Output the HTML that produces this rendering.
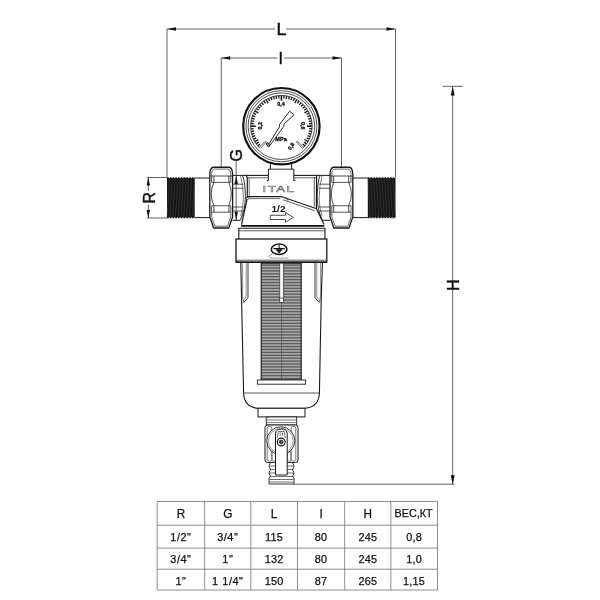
<!DOCTYPE html>
<html><head><meta charset="utf-8"><title>Filter drawing</title>
<style>html,body{margin:0;padding:0;background:#fff}svg{display:block;will-change:transform}text{font-family:"Liberation Sans",sans-serif;fill:#111}#dims text{stroke:#111;stroke-width:.45px}#table text{stroke:#111;stroke-width:.25px}#gauge text{stroke:#111;stroke-width:.3px}</style></head><body>
<svg width="600" height="600" viewBox="0 0 600 600">
<rect width="600" height="600" fill="#fff"/>
<g id="dims">
<line x1="167.00" y1="29.00" x2="275.00" y2="29.00" stroke="#3a3a3a" stroke-width="0.8"/>
<line x1="286.00" y1="29.00" x2="395.50" y2="29.00" stroke="#3a3a3a" stroke-width="0.8"/>
<polygon points="167.00,29.00 176.00,27.20 176.00,30.80" fill="#111"/>
<polygon points="395.50,29.00 386.50,30.80 386.50,27.20" fill="#111"/>
<line x1="167.00" y1="29.00" x2="167.00" y2="177.50" stroke="#3a3a3a" stroke-width="0.8"/>
<line x1="395.50" y1="29.00" x2="395.50" y2="177.50" stroke="#3a3a3a" stroke-width="0.8"/>
<text x="281.4" y="35.3" font-size="17.4" text-anchor="middle" textLength="10" lengthAdjust="spacingAndGlyphs">L</text>
<line x1="221.25" y1="58.00" x2="277.50" y2="58.00" stroke="#3a3a3a" stroke-width="0.8"/>
<line x1="284.00" y1="58.00" x2="341.50" y2="58.00" stroke="#3a3a3a" stroke-width="0.8"/>
<polygon points="221.25,58.00 230.25,56.20 230.25,59.80" fill="#111"/>
<polygon points="341.50,58.00 332.50,59.80 332.50,56.20" fill="#111"/>
<line x1="221.25" y1="58.00" x2="221.25" y2="167.00" stroke="#3a3a3a" stroke-width="0.8"/>
<line x1="341.50" y1="58.00" x2="341.50" y2="167.00" stroke="#3a3a3a" stroke-width="0.8"/>
<text x="280.8" y="63.8" font-size="16" text-anchor="middle">I</text>
<line x1="147.00" y1="177.50" x2="167.00" y2="177.50" stroke="#3a3a3a" stroke-width="0.8"/>
<line x1="147.00" y1="218.00" x2="167.00" y2="218.00" stroke="#3a3a3a" stroke-width="0.8"/>
<line x1="148.30" y1="177.50" x2="148.30" y2="191.00" stroke="#3a3a3a" stroke-width="0.8"/>
<line x1="148.30" y1="205.00" x2="148.30" y2="218.00" stroke="#3a3a3a" stroke-width="0.8"/>
<polygon points="148.30,177.50 150.00,185.50 146.60,185.50" fill="#111"/>
<polygon points="148.30,218.00 146.60,210.00 150.00,210.00" fill="#111"/>
<text transform="translate(155,197.8) rotate(-90)" font-size="17.4" text-anchor="middle" textLength="11.4" lengthAdjust="spacingAndGlyphs">R</text>
<line x1="236.20" y1="161.00" x2="236.20" y2="220.50" stroke="#3a3a3a" stroke-width="0.8"/>
<polygon points="236.20,175.50 237.90,184.00 234.50,184.00" fill="#111"/>
<polygon points="236.20,220.30 234.50,211.80 237.90,211.80" fill="#111"/>
<text transform="translate(242.3,155.2) rotate(-90)" font-size="17.4" text-anchor="middle" textLength="12.4" lengthAdjust="spacingAndGlyphs">G</text>
<line x1="442.80" y1="86.30" x2="463.00" y2="86.30" stroke="#3a3a3a" stroke-width="0.8"/>
<line x1="452.70" y1="86.30" x2="452.70" y2="484.20" stroke="#3a3a3a" stroke-width="0.8"/>
<polygon points="452.70,86.50 454.70,95.50 450.70,95.50" fill="#111"/>
<polygon points="452.70,484.20 450.70,475.20 454.70,475.20" fill="#111"/>
<line x1="293.00" y1="484.20" x2="454.50" y2="484.20" stroke="#3a3a3a" stroke-width="0.8"/>
<text transform="translate(458.6,285.1) rotate(-90)" font-size="17.4" text-anchor="middle" textLength="11.2" lengthAdjust="spacingAndGlyphs">H</text>
</g>
<g id="threads">
<rect x="167" y="177.3" width="27.69999999999999" height="40.89999999999998" fill="#161616"/>
<line x1="169.69" y1="178.10" x2="167.08" y2="217.40" stroke="#4a4a4a" stroke-width="0.45"/>
<line x1="172.46" y1="178.10" x2="169.85" y2="217.40" stroke="#4a4a4a" stroke-width="0.45"/>
<line x1="175.23" y1="178.10" x2="172.62" y2="217.40" stroke="#4a4a4a" stroke-width="0.45"/>
<line x1="178.00" y1="178.10" x2="175.39" y2="217.40" stroke="#4a4a4a" stroke-width="0.45"/>
<line x1="180.77" y1="178.10" x2="178.16" y2="217.40" stroke="#4a4a4a" stroke-width="0.45"/>
<line x1="183.53" y1="178.10" x2="180.93" y2="217.40" stroke="#4a4a4a" stroke-width="0.45"/>
<line x1="186.31" y1="178.10" x2="183.70" y2="217.40" stroke="#4a4a4a" stroke-width="0.45"/>
<line x1="189.07" y1="178.10" x2="186.47" y2="217.40" stroke="#4a4a4a" stroke-width="0.45"/>
<line x1="191.84" y1="178.10" x2="189.24" y2="217.40" stroke="#4a4a4a" stroke-width="0.45"/>
<line x1="194.62" y1="178.10" x2="192.01" y2="217.40" stroke="#4a4a4a" stroke-width="0.45"/>
<rect x="168.66" y="177.10000000000002" width="1.11" height="1" fill="#fff"/>
<rect x="168.66" y="217.39999999999998" width="1.11" height="1" fill="#fff"/>
<rect x="171.43" y="177.10000000000002" width="1.11" height="1" fill="#fff"/>
<rect x="171.43" y="217.39999999999998" width="1.11" height="1" fill="#fff"/>
<rect x="174.20" y="177.10000000000002" width="1.11" height="1" fill="#fff"/>
<rect x="174.20" y="217.39999999999998" width="1.11" height="1" fill="#fff"/>
<rect x="176.97" y="177.10000000000002" width="1.11" height="1" fill="#fff"/>
<rect x="176.97" y="217.39999999999998" width="1.11" height="1" fill="#fff"/>
<rect x="179.74" y="177.10000000000002" width="1.11" height="1" fill="#fff"/>
<rect x="179.74" y="217.39999999999998" width="1.11" height="1" fill="#fff"/>
<rect x="182.51" y="177.10000000000002" width="1.11" height="1" fill="#fff"/>
<rect x="182.51" y="217.39999999999998" width="1.11" height="1" fill="#fff"/>
<rect x="185.28" y="177.10000000000002" width="1.11" height="1" fill="#fff"/>
<rect x="185.28" y="217.39999999999998" width="1.11" height="1" fill="#fff"/>
<rect x="188.05" y="177.10000000000002" width="1.11" height="1" fill="#fff"/>
<rect x="188.05" y="217.39999999999998" width="1.11" height="1" fill="#fff"/>
<rect x="190.82" y="177.10000000000002" width="1.11" height="1" fill="#fff"/>
<rect x="190.82" y="217.39999999999998" width="1.11" height="1" fill="#fff"/>
<rect x="193.59" y="177.10000000000002" width="1.11" height="1" fill="#fff"/>
<rect x="193.59" y="217.39999999999998" width="1.11" height="1" fill="#fff"/>
<rect x="367.8" y="177.3" width="27.69999999999999" height="40.89999999999998" fill="#161616"/>
<line x1="367.88" y1="178.10" x2="370.49" y2="217.40" stroke="#4a4a4a" stroke-width="0.45"/>
<line x1="370.65" y1="178.10" x2="373.25" y2="217.40" stroke="#4a4a4a" stroke-width="0.45"/>
<line x1="373.43" y1="178.10" x2="376.03" y2="217.40" stroke="#4a4a4a" stroke-width="0.45"/>
<line x1="376.19" y1="178.10" x2="378.80" y2="217.40" stroke="#4a4a4a" stroke-width="0.45"/>
<line x1="378.96" y1="178.10" x2="381.56" y2="217.40" stroke="#4a4a4a" stroke-width="0.45"/>
<line x1="381.74" y1="178.10" x2="384.34" y2="217.40" stroke="#4a4a4a" stroke-width="0.45"/>
<line x1="384.50" y1="178.10" x2="387.11" y2="217.40" stroke="#4a4a4a" stroke-width="0.45"/>
<line x1="387.27" y1="178.10" x2="389.88" y2="217.40" stroke="#4a4a4a" stroke-width="0.45"/>
<line x1="390.05" y1="178.10" x2="392.65" y2="217.40" stroke="#4a4a4a" stroke-width="0.45"/>
<line x1="392.81" y1="178.10" x2="395.42" y2="217.40" stroke="#4a4a4a" stroke-width="0.45"/>
<rect x="369.46" y="177.10000000000002" width="1.11" height="1" fill="#fff"/>
<rect x="369.46" y="217.39999999999998" width="1.11" height="1" fill="#fff"/>
<rect x="372.23" y="177.10000000000002" width="1.11" height="1" fill="#fff"/>
<rect x="372.23" y="217.39999999999998" width="1.11" height="1" fill="#fff"/>
<rect x="375.00" y="177.10000000000002" width="1.11" height="1" fill="#fff"/>
<rect x="375.00" y="217.39999999999998" width="1.11" height="1" fill="#fff"/>
<rect x="377.77" y="177.10000000000002" width="1.11" height="1" fill="#fff"/>
<rect x="377.77" y="217.39999999999998" width="1.11" height="1" fill="#fff"/>
<rect x="380.54" y="177.10000000000002" width="1.11" height="1" fill="#fff"/>
<rect x="380.54" y="217.39999999999998" width="1.11" height="1" fill="#fff"/>
<rect x="383.31" y="177.10000000000002" width="1.11" height="1" fill="#fff"/>
<rect x="383.31" y="217.39999999999998" width="1.11" height="1" fill="#fff"/>
<rect x="386.08" y="177.10000000000002" width="1.11" height="1" fill="#fff"/>
<rect x="386.08" y="217.39999999999998" width="1.11" height="1" fill="#fff"/>
<rect x="388.85" y="177.10000000000002" width="1.11" height="1" fill="#fff"/>
<rect x="388.85" y="217.39999999999998" width="1.11" height="1" fill="#fff"/>
<rect x="391.62" y="177.10000000000002" width="1.11" height="1" fill="#fff"/>
<rect x="391.62" y="217.39999999999998" width="1.11" height="1" fill="#fff"/>
<rect x="394.39" y="177.10000000000002" width="1.11" height="1" fill="#fff"/>
<rect x="394.39" y="217.39999999999998" width="1.11" height="1" fill="#fff"/>
<path d="M194.70 178.00 L209.70 178.00" stroke="#1a1a1a" stroke-width="1" fill="none" stroke-linejoin="round"/>
<path d="M194.70 217.60 L209.70 217.60" stroke="#1a1a1a" stroke-width="1" fill="none" stroke-linejoin="round"/>
<path d="M352.80 178.00 L367.80 178.00" stroke="#1a1a1a" stroke-width="1" fill="none" stroke-linejoin="round"/>
<path d="M352.80 217.60 L367.80 217.60" stroke="#1a1a1a" stroke-width="1" fill="none" stroke-linejoin="round"/>
</g>
<g id="nuts">
<path d="M213.20000000000002 167.25 L229.2 167.25 Q232.6 167.85 232.6 174.85 L232.6 216.8 L228.79999999999998 228.0 L213.60000000000002 228.0 L209.8 216.8 L209.8 174.85 Q209.8 167.85 213.20000000000002 167.25 Z" fill="#fff" stroke="#1a1a1a" stroke-width="1.3" stroke-linejoin="round"/>
<line x1="211.60" y1="176.00" x2="211.60" y2="182.40" stroke="#2c2c2c" stroke-width="0.8"/>
<line x1="230.80" y1="176.00" x2="230.80" y2="182.40" stroke="#2c2c2c" stroke-width="0.8"/>
<line x1="211.60" y1="205.75" x2="211.60" y2="216.40" stroke="#2c2c2c" stroke-width="0.8"/>
<line x1="230.80" y1="205.75" x2="230.80" y2="216.40" stroke="#2c2c2c" stroke-width="0.8"/>
<path d="M211.60000000000002 176 L211.60000000000002 173.5 Q211.8 169.2 214.8 169.1 L227.6 169.1 Q230.6 169.2 230.79999999999998 173.5 L230.79999999999998 176" fill="none" stroke="#2c2c2c" stroke-width="0.7"/>
<path d="M211.60000000000002 216.4 L214.8 226.2 L227.6 226.2 L230.79999999999998 216.4" fill="none" stroke="#2c2c2c" stroke-width="0.7"/>
<line x1="210.40" y1="176.00" x2="232.00" y2="176.00" stroke="#2c2c2c" stroke-width="0.85"/>
<line x1="211.60" y1="182.40" x2="230.80" y2="182.40" stroke="#2c2c2c" stroke-width="0.8"/>
<line x1="211.60" y1="205.75" x2="230.80" y2="205.75" stroke="#2c2c2c" stroke-width="0.8"/>
<line x1="211.60" y1="212.20" x2="230.80" y2="212.20" stroke="#2c2c2c" stroke-width="0.8"/>
<path d="M213.9 176 L213.9 182.4 Q208.5 194 213.9 205.75 L213.9 212.2 M228.9 176 L228.9 182.4 Q233.70000000000002 194 228.9 205.75 L228.9 212.2" fill="none" stroke="#2c2c2c" stroke-width="0.85"/>
<path d="M232.60 175.40 L242.50 175.40" stroke="#1a1a1a" stroke-width="1.0" fill="none" stroke-linejoin="round"/>
<path d="M232.60 220.30 L240.20 220.30" stroke="#1a1a1a" stroke-width="1.0" fill="none" stroke-linejoin="round"/>
<line x1="232.60" y1="184.20" x2="243.40" y2="184.20" stroke="#2c2c2c" stroke-width="0.8"/>
<line x1="232.60" y1="188.25" x2="243.40" y2="188.25" stroke="#2c2c2c" stroke-width="0.8"/>
<line x1="232.60" y1="207.00" x2="243.40" y2="207.00" stroke="#2c2c2c" stroke-width="0.8"/>
<line x1="232.60" y1="211.00" x2="243.40" y2="211.00" stroke="#2c2c2c" stroke-width="0.8"/>
<path d="M242.5 175.4 Q245.2 182 245.4 197 Q245.2 210 240.2 220.3" fill="none" stroke="#1a1a1a" stroke-width="0.9"/>
<path d="M240.6 175.8 Q243.4 186 243.4 198 Q243.4 208 240.6 216" fill="none" stroke="#2c2c2c" stroke-width="0.6"/>
<g transform="translate(562.6,0) scale(-1,1)">
<path d="M213.20000000000002 167.25 L229.2 167.25 Q232.6 167.85 232.6 174.85 L232.6 216.8 L228.79999999999998 228.0 L213.60000000000002 228.0 L209.8 216.8 L209.8 174.85 Q209.8 167.85 213.20000000000002 167.25 Z" fill="#fff" stroke="#1a1a1a" stroke-width="1.3" stroke-linejoin="round"/>
<line x1="211.60" y1="176.00" x2="211.60" y2="182.40" stroke="#2c2c2c" stroke-width="0.8"/>
<line x1="230.80" y1="176.00" x2="230.80" y2="182.40" stroke="#2c2c2c" stroke-width="0.8"/>
<line x1="211.60" y1="205.75" x2="211.60" y2="216.40" stroke="#2c2c2c" stroke-width="0.8"/>
<line x1="230.80" y1="205.75" x2="230.80" y2="216.40" stroke="#2c2c2c" stroke-width="0.8"/>
<path d="M211.60000000000002 176 L211.60000000000002 173.5 Q211.8 169.2 214.8 169.1 L227.6 169.1 Q230.6 169.2 230.79999999999998 173.5 L230.79999999999998 176" fill="none" stroke="#2c2c2c" stroke-width="0.7"/>
<path d="M211.60000000000002 216.4 L214.8 226.2 L227.6 226.2 L230.79999999999998 216.4" fill="none" stroke="#2c2c2c" stroke-width="0.7"/>
<line x1="210.40" y1="176.00" x2="232.00" y2="176.00" stroke="#2c2c2c" stroke-width="0.85"/>
<line x1="211.60" y1="182.40" x2="230.80" y2="182.40" stroke="#2c2c2c" stroke-width="0.8"/>
<line x1="211.60" y1="205.75" x2="230.80" y2="205.75" stroke="#2c2c2c" stroke-width="0.8"/>
<line x1="211.60" y1="212.20" x2="230.80" y2="212.20" stroke="#2c2c2c" stroke-width="0.8"/>
<path d="M213.9 176 L213.9 182.4 Q208.5 194 213.9 205.75 L213.9 212.2 M228.9 176 L228.9 182.4 Q233.70000000000002 194 228.9 205.75 L228.9 212.2" fill="none" stroke="#2c2c2c" stroke-width="0.85"/>
<path d="M232.60 175.40 L242.50 175.40" stroke="#1a1a1a" stroke-width="1.0" fill="none" stroke-linejoin="round"/>
<path d="M232.60 220.30 L240.20 220.30" stroke="#1a1a1a" stroke-width="1.0" fill="none" stroke-linejoin="round"/>
<line x1="232.60" y1="184.20" x2="243.40" y2="184.20" stroke="#2c2c2c" stroke-width="0.8"/>
<line x1="232.60" y1="188.25" x2="243.40" y2="188.25" stroke="#2c2c2c" stroke-width="0.8"/>
<line x1="232.60" y1="207.00" x2="243.40" y2="207.00" stroke="#2c2c2c" stroke-width="0.8"/>
<line x1="232.60" y1="211.00" x2="243.40" y2="211.00" stroke="#2c2c2c" stroke-width="0.8"/>
<path d="M242.5 175.4 Q245.2 182 245.4 197 Q245.2 210 240.2 220.3" fill="none" stroke="#1a1a1a" stroke-width="0.9"/>
<path d="M240.6 175.8 Q243.4 186 243.4 198 Q243.4 208 240.6 216" fill="none" stroke="#2c2c2c" stroke-width="0.6"/>
</g>
</g>
<g id="body">
<path d="M242.50 175.40 L268.40 175.40" stroke="#1a1a1a" stroke-width="1.1" fill="none" stroke-linejoin="round"/>
<path d="M293.80 175.40 L320.00 175.40" stroke="#1a1a1a" stroke-width="1.1" fill="none" stroke-linejoin="round"/>
<path d="M247.30 177.80 L268.40 177.80" stroke="#333" stroke-width="0.8" fill="none" stroke-linejoin="round"/>
<path d="M293.80 177.80 L316.00 177.80" stroke="#333" stroke-width="0.8" fill="none" stroke-linejoin="round"/>
<path d="M246.2 175.4 L247.3 178 L247.3 198 L241.5 224.6" stroke="#1a1a1a" stroke-width="1.2" fill="none" stroke-linejoin="round"/>
<rect x="246.4" y="197.6" width="1.8" height="2" fill="#fff" stroke="#222" stroke-width="0.6"/>
<line x1="249.20" y1="178.00" x2="249.20" y2="196.60" stroke="#333" stroke-width="0.7"/>
<path d="M316.6 175.4 L316.4 208.5 L324 224.6" stroke="#1a1a1a" stroke-width="1.2" fill="none"/>
<path d="M314.3 177.6 L314.3 206.5" stroke="#333" stroke-width="0.8" fill="none"/>
<path d="M248.00 196.60 L281.00 196.60 L316.00 208.60" stroke="#1a1a1a" stroke-width="1.1" fill="none" stroke-linejoin="round"/>
<path d="M249.00 198.60 L280.50 198.60" stroke="#333" stroke-width="0.7" fill="none" stroke-linejoin="round"/>
<path d="M283.00 199.80 L314.50 210.60" stroke="#333" stroke-width="0.8" fill="none" stroke-linejoin="round"/>
<path d="M286.00 197.20 L288.00 200.60" stroke="#333" stroke-width="0.7" fill="none" stroke-linejoin="round"/>
<line x1="241.20" y1="225.80" x2="324.30" y2="225.80" stroke="#111" stroke-width="1.7"/>
<path d="M270.40 163.50 L270.40 169.20 L268.40 169.20 L268.40 180.60 L266.80 180.60" stroke="#1a1a1a" stroke-width="1.0" fill="none" stroke-linejoin="round"/>
<path d="M291.60 163.50 L291.60 169.20 L293.80 169.20 L293.80 180.60 L295.40 180.60" stroke="#1a1a1a" stroke-width="1.0" fill="none" stroke-linejoin="round"/>
<line x1="270.40" y1="169.20" x2="291.60" y2="169.20" stroke="#1a1a1a" stroke-width="0.9"/>
<text x="279" y="192.2" font-size="9.6" text-anchor="middle" textLength="33" lengthAdjust="spacingAndGlyphs" fill="#fff" stroke="#777" stroke-width="0.6" style="fill:#fff" letter-spacing="1">ITAL</text>
<text x="278.5" y="212" font-size="9.6" font-weight="bold" text-anchor="middle" textLength="14" lengthAdjust="spacingAndGlyphs">1/2</text>
<path d="M270.30 215.30 L285.50 215.30 L285.50 212.60 L293.40 217.40 L285.50 222.20 L285.50 219.50 L270.30 219.50 Z" stroke="#222" stroke-width="0.8" fill="#fff" stroke-linejoin="round"/>
</g>
<g id="cap">
<path d="M238.80 239.00 L238.80 228.30 L325.00 228.30 L325.00 239.00" stroke="#1a1a1a" stroke-width="1.1" fill="none" stroke-linejoin="round"/>
<line x1="238.80" y1="230.80" x2="325.00" y2="230.80" stroke="#333" stroke-width="0.8"/>
<rect x="236" y="239" width="90.8" height="23.2" fill="#fff" stroke="#1a1a1a" stroke-width="1.3"/>
<line x1="236.00" y1="260.20" x2="326.80" y2="260.20" stroke="#333" stroke-width="0.8"/>
<line x1="236.00" y1="262.30" x2="326.80" y2="262.30" stroke="#1a1a1a" stroke-width="1.5"/>
<ellipse cx="279.1" cy="249.2" rx="7.8" ry="5.2" fill="#fff" stroke="#111" stroke-width="1.5"/>
<path d="M279.1 245 L279.1 250 M273.5 248.6 L284.7 248.6" stroke="#111" stroke-width="1.1" fill="none"/>
<path d="M276 249.4 L279.1 253.2 L282.2 249.4 Z" fill="#111" stroke="#111" stroke-width="0.6"/>
<line x1="268.00" y1="256.80" x2="272.60" y2="253.40" stroke="#555" stroke-width="0.6"/>
<line x1="269.50" y1="258.00" x2="288.50" y2="258.00" stroke="#666" stroke-width="0.6"/>
</g>
<g id="bowl">
<path d="M240.8 262.5 L241.6 300 L243.6 393 Q244 407 258 408.3 L305 408.3 Q319 407 319.4 393 L321.2 300 L322.4 262.5" stroke="#1a1a1a" stroke-width="1.1" fill="none"/>
<line x1="243.60" y1="393.00" x2="319.40" y2="393.00" stroke="#333" stroke-width="0.8"/>
<path d="M248.00 263.00 L248.00 297.70 L243.80 302.50" stroke="#222" stroke-width="0.9" fill="none" stroke-linejoin="round"/>
<path d="M246.20 263.00 L246.20 297.00 L242.80 301.40" stroke="#444" stroke-width="0.6" fill="none" stroke-linejoin="round"/>
<path d="M242.60 263.00 L242.60 298.00 L243.80 302.50" stroke="#444" stroke-width="0.6" fill="none" stroke-linejoin="round"/>
<path d="M315.00 263.00 L315.00 297.70 L319.20 302.50" stroke="#222" stroke-width="0.9" fill="none" stroke-linejoin="round"/>
<path d="M316.80 263.00 L316.80 297.00 L320.20 301.40" stroke="#444" stroke-width="0.6" fill="none" stroke-linejoin="round"/>
<path d="M320.40 263.00 L320.40 298.00 L319.20 302.50" stroke="#444" stroke-width="0.6" fill="none" stroke-linejoin="round"/>
<rect x="261.2" y="263.2" width="40.0" height="116.80000000000001" fill="#ababab"/>
<rect x="261.2" y="264.40" width="40.0" height="1.35" fill="#5c5c5c"/>
<rect x="261.2" y="267.31" width="40.0" height="1.35" fill="#5c5c5c"/>
<rect x="261.2" y="270.22" width="40.0" height="1.35" fill="#5c5c5c"/>
<rect x="261.2" y="273.13" width="40.0" height="1.35" fill="#5c5c5c"/>
<rect x="261.2" y="276.04" width="40.0" height="1.35" fill="#5c5c5c"/>
<rect x="261.2" y="278.95" width="40.0" height="1.35" fill="#5c5c5c"/>
<rect x="261.2" y="281.86" width="40.0" height="1.35" fill="#5c5c5c"/>
<rect x="261.2" y="284.77" width="40.0" height="1.35" fill="#5c5c5c"/>
<rect x="261.2" y="287.68" width="40.0" height="1.35" fill="#5c5c5c"/>
<rect x="261.2" y="290.59" width="40.0" height="1.35" fill="#5c5c5c"/>
<rect x="261.2" y="293.50" width="40.0" height="1.35" fill="#5c5c5c"/>
<rect x="261.2" y="296.41" width="40.0" height="1.35" fill="#5c5c5c"/>
<rect x="261.2" y="299.32" width="40.0" height="1.35" fill="#5c5c5c"/>
<rect x="261.2" y="302.23" width="40.0" height="1.35" fill="#5c5c5c"/>
<rect x="261.2" y="305.14" width="40.0" height="1.35" fill="#5c5c5c"/>
<rect x="261.2" y="308.05" width="40.0" height="1.35" fill="#5c5c5c"/>
<rect x="261.2" y="310.96" width="40.0" height="1.35" fill="#5c5c5c"/>
<rect x="261.2" y="313.87" width="40.0" height="1.35" fill="#5c5c5c"/>
<rect x="261.2" y="316.78" width="40.0" height="1.35" fill="#5c5c5c"/>
<rect x="261.2" y="319.69" width="40.0" height="1.35" fill="#5c5c5c"/>
<rect x="261.2" y="322.60" width="40.0" height="1.35" fill="#5c5c5c"/>
<rect x="261.2" y="325.51" width="40.0" height="1.35" fill="#5c5c5c"/>
<rect x="261.2" y="328.42" width="40.0" height="1.35" fill="#5c5c5c"/>
<rect x="261.2" y="331.33" width="40.0" height="1.35" fill="#5c5c5c"/>
<rect x="261.2" y="334.24" width="40.0" height="1.35" fill="#5c5c5c"/>
<rect x="261.2" y="337.15" width="40.0" height="1.35" fill="#5c5c5c"/>
<rect x="261.2" y="340.06" width="40.0" height="1.35" fill="#5c5c5c"/>
<rect x="261.2" y="342.97" width="40.0" height="1.35" fill="#5c5c5c"/>
<rect x="261.2" y="345.88" width="40.0" height="1.35" fill="#5c5c5c"/>
<rect x="261.2" y="348.79" width="40.0" height="1.35" fill="#5c5c5c"/>
<rect x="261.2" y="351.70" width="40.0" height="1.35" fill="#5c5c5c"/>
<rect x="261.2" y="354.61" width="40.0" height="1.35" fill="#5c5c5c"/>
<rect x="261.2" y="357.52" width="40.0" height="1.35" fill="#5c5c5c"/>
<rect x="261.2" y="360.43" width="40.0" height="1.35" fill="#5c5c5c"/>
<rect x="261.2" y="363.34" width="40.0" height="1.35" fill="#5c5c5c"/>
<rect x="261.2" y="366.25" width="40.0" height="1.35" fill="#5c5c5c"/>
<rect x="261.2" y="369.16" width="40.0" height="1.35" fill="#5c5c5c"/>
<rect x="261.2" y="372.07" width="40.0" height="1.35" fill="#5c5c5c"/>
<rect x="261.2" y="374.98" width="40.0" height="1.35" fill="#5c5c5c"/>
<rect x="261.2" y="377.89" width="40.0" height="1.35" fill="#5c5c5c"/>
<rect x="261.2" y="263.2" width="40.0" height="116.80000000000001" fill="none" stroke="#1a1a1a" stroke-width="1.1"/>
<rect x="279.8" y="263.2" width="3.5" height="39.3" fill="#fff" stroke="#333" stroke-width="0.7"/>
<rect x="279.8" y="298" width="3.5" height="4.5" fill="#fff" stroke="#333" stroke-width="0.7"/>
<line x1="281.50" y1="302.50" x2="281.50" y2="380.00" stroke="#555" stroke-width="0.7"/>
<rect x="257.4" y="380" width="48.2" height="4.2" fill="#fff" stroke="#222" stroke-width="0.9"/>
<rect x="258" y="408.3" width="47" height="8.6" fill="#fff" stroke="#1a1a1a" stroke-width="1.0"/>
</g>
<g id="valve">
<rect x="266.3" y="417" width="30.4" height="8" fill="#fff" stroke="#222" stroke-width="0.9"/>
<line x1="266.30" y1="420.00" x2="296.70" y2="420.00" stroke="#444" stroke-width="0.7"/>
<line x1="266.30" y1="422.60" x2="296.70" y2="422.60" stroke="#444" stroke-width="0.7"/>
<rect x="265" y="425" width="33" height="37.5" rx="2.5" fill="#fff" stroke="#1a1a1a" stroke-width="1.0"/>
<rect x="267.2" y="426.5" width="4.6" height="34.5" rx="1.5" fill="none" stroke="#444" stroke-width="0.7"/>
<rect x="291.2" y="426.5" width="4.6" height="34.5" rx="1.5" fill="none" stroke="#444" stroke-width="0.7"/>
<rect x="272" y="452" width="3.5" height="9" fill="none" stroke="#444" stroke-width="0.6"/>
<rect x="287.4" y="452" width="3.5" height="9" fill="none" stroke="#444" stroke-width="0.6"/>
<circle cx="280.8" cy="440.8" r="14" fill="#fff" stroke="#222" stroke-width="0.9"/>
<circle cx="280.8" cy="440.8" r="12.4" fill="none" stroke="#555" stroke-width="0.6"/>
<path d="M270.5 462.5 L269 466 L270.5 469.5 L269 473 L270.5 476.5 L269 478 L269 484 L294 484 L294 478 L292.5 476.5 L294 473 L292.5 469.5 L294 466 L292.5 462.5 Z" fill="#fff" stroke="#222" stroke-width="0.9"/>
<line x1="269.40" y1="466.00" x2="293.60" y2="466.00" stroke="#333" stroke-width="0.7"/>
<line x1="269.40" y1="469.50" x2="293.60" y2="469.50" stroke="#333" stroke-width="0.7"/>
<line x1="269.40" y1="473.00" x2="293.60" y2="473.00" stroke="#333" stroke-width="0.7"/>
<line x1="269.40" y1="476.50" x2="293.60" y2="476.50" stroke="#333" stroke-width="0.7"/>
<line x1="269.40" y1="479.50" x2="293.60" y2="479.50" stroke="#333" stroke-width="0.7"/>
<line x1="269.40" y1="482.00" x2="293.60" y2="482.00" stroke="#333" stroke-width="0.7"/>
<path d="M275.5 475 L275.5 434 Q275.5 429 281.3 429 Q287.2 429 287.2 434 L287.2 475 Z" fill="#fff" stroke="#1a1a1a" stroke-width="1.0"/>
<path d="M277.5 438 L278.3 431.5 L284.4 431.5 L285.2 438" fill="none" stroke="#333" stroke-width="0.7"/>
<line x1="280.20" y1="432.50" x2="280.20" y2="435.50" stroke="#222" stroke-width="0.7"/>
<line x1="282.40" y1="432.50" x2="282.40" y2="435.50" stroke="#222" stroke-width="0.7"/>
<circle cx="281.2" cy="442" r="3.9" fill="#fff" stroke="#111" stroke-width="1.1"/>
<circle cx="281.2" cy="442" r="2" fill="#555" stroke="#111" stroke-width="0.6"/>
</g>
<g id="gauge">
<circle cx="281.4" cy="126.2" r="38.2" fill="#fff" stroke="#111" stroke-width="2.2"/>
<circle cx="281.4" cy="126.2" r="35.5" fill="none" stroke="#222" stroke-width="0.8"/>
<circle cx="281.4" cy="126.2" r="33.3" fill="none" stroke="#222" stroke-width="0.8"/>
<path d="M259.62 147.98 A30.8 30.8 0 1 1 303.18 147.98" fill="none" stroke="#222" stroke-width="0.8"/>
<path d="M257.81 146.00L260.10 144.07M256.17 143.87L258.63 142.15M254.73 141.60L258.36 139.50M253.49 139.22L256.20 137.95M252.46 136.73L255.28 135.71M251.65 134.17L254.55 133.40M251.07 131.55L254.02 131.03M250.72 128.88L253.71 128.62M250.72 123.52L253.71 123.78M251.07 120.85L254.02 121.37M251.65 118.23L254.55 119.00M252.46 115.67L255.28 116.69M253.49 113.18L256.20 114.45M254.73 110.80L258.36 112.90M256.17 108.53L258.63 110.25M257.81 106.40L260.10 108.33M259.62 104.42L261.74 106.54M261.60 102.61L263.53 104.90M263.73 100.97L265.45 103.43M266.00 99.53L268.10 103.16M268.38 98.29L269.65 101.00M270.87 97.26L271.89 100.08M273.43 96.45L274.20 99.35M276.05 95.87L276.57 98.82M278.72 95.52L278.98 98.51M284.08 95.52L283.82 98.51M286.75 95.87L286.23 98.82M289.37 96.45L288.60 99.35M291.93 97.26L290.91 100.08M294.42 98.29L293.15 101.00M296.80 99.53L294.70 103.16M299.07 100.97L297.35 103.43M301.20 102.61L299.27 104.90M303.18 104.42L301.06 106.54M304.99 106.40L302.70 108.33M306.63 108.53L304.17 110.25M308.07 110.80L304.44 112.90M309.31 113.18L306.60 114.45M310.34 115.67L307.52 116.69M311.15 118.23L308.25 119.00M311.73 120.85L308.78 121.37M312.08 123.52L309.09 123.78M312.08 128.88L309.09 128.62M311.73 131.55L308.78 131.03M311.15 134.17L308.25 133.40M310.34 136.73L307.52 135.71M309.31 139.22L306.60 137.95M308.07 141.60L304.44 139.50M306.63 143.87L304.17 142.15M304.99 146.00L302.70 144.07" fill="none" stroke="#1a1a1a" stroke-width="1.35"/>
<line x1="250.60" y1="126.20" x2="255.80" y2="126.20" stroke="#111" stroke-width="1.6"/>
<line x1="281.40" y1="95.40" x2="281.40" y2="100.60" stroke="#111" stroke-width="1.6"/>
<line x1="312.20" y1="126.20" x2="307.00" y2="126.20" stroke="#111" stroke-width="1.6"/>
<path d="M260.24 148.58 L266.42 142.04 L265.56 141.18 L259.02 147.36" stroke="#222" stroke-width="0.7" fill="none" stroke-linejoin="round"/>
<path d="M303.78 147.36 L297.24 141.18 L296.38 142.04 L302.56 148.58" stroke="#222" stroke-width="0.7" fill="none" stroke-linejoin="round"/>
<text x="281.09999999999997" y="105.6" font-size="5.4" font-weight="bold" text-anchor="middle">0,4</text>
<text transform="translate(261.6,125.8) rotate(-90)" font-size="5.4" font-weight="bold" text-anchor="middle">0,2</text>
<text transform="translate(301.2,125.8) rotate(90)" font-size="5.4" font-weight="bold" text-anchor="middle">0,6</text>
<text transform="translate(269.4,146.6) rotate(-35)" font-size="6.4" font-weight="bold" text-anchor="middle" stroke="#111" stroke-width="0.2">0</text>
<text transform="translate(292.6,147.4) rotate(-55)" font-size="5.4" font-weight="bold" text-anchor="middle">0,8</text>
<text x="281" y="140.8" font-size="5.6" font-weight="bold" text-anchor="middle" stroke="#111" stroke-width="0.25">MPa</text>
<path d="M289.6 111.2 L294.1 114.7 L283.7 124.4 Q284.6 126.6 282.7 127.9 L270.1 145.2 L268.7 144.3 L279.5 126.8 Q278.7 124.4 281 122.7 Z" fill="#fff" stroke="#111" stroke-width="0.9" stroke-linejoin="round"/>
</g>
<g id="table">
<line x1="157.20" y1="501.50" x2="157.20" y2="590.00" stroke="#727272" stroke-width="0.8"/>
<line x1="204.70" y1="501.50" x2="204.70" y2="590.00" stroke="#727272" stroke-width="0.8"/>
<line x1="250.80" y1="501.50" x2="250.80" y2="590.00" stroke="#727272" stroke-width="0.8"/>
<line x1="297.50" y1="501.50" x2="297.50" y2="590.00" stroke="#727272" stroke-width="0.8"/>
<line x1="344.70" y1="501.50" x2="344.70" y2="590.00" stroke="#727272" stroke-width="0.8"/>
<line x1="390.80" y1="501.50" x2="390.80" y2="590.00" stroke="#727272" stroke-width="0.8"/>
<line x1="437.50" y1="501.50" x2="437.50" y2="590.00" stroke="#727272" stroke-width="0.8"/>
<line x1="157.20" y1="501.50" x2="437.50" y2="501.50" stroke="#727272" stroke-width="0.8"/>
<line x1="157.20" y1="525.20" x2="437.50" y2="525.20" stroke="#727272" stroke-width="0.8"/>
<line x1="157.20" y1="548.10" x2="437.50" y2="548.10" stroke="#727272" stroke-width="0.8"/>
<line x1="157.20" y1="569.20" x2="437.50" y2="569.20" stroke="#727272" stroke-width="0.8"/>
<line x1="157.20" y1="590.00" x2="437.50" y2="590.00" stroke="#727272" stroke-width="0.8"/>
<text x="180.9" y="518.0" font-size="12.4" text-anchor="middle" textLength="8.5" lengthAdjust="spacingAndGlyphs">R</text>
<text x="227.8" y="518.0" font-size="12.4" text-anchor="middle" textLength="9.2" lengthAdjust="spacingAndGlyphs">G</text>
<text x="274.1" y="518.0" font-size="12.4" text-anchor="middle" textLength="6.6" lengthAdjust="spacingAndGlyphs">L</text>
<text x="321.1" y="518.0" font-size="12.4" text-anchor="middle" textLength="3.3" lengthAdjust="spacingAndGlyphs">I</text>
<text x="367.8" y="518.0" font-size="12.4" text-anchor="middle" textLength="8.5" lengthAdjust="spacingAndGlyphs">H</text>
<text x="413.6" y="516.5" font-size="11.4" text-anchor="middle" textLength="38" lengthAdjust="spacingAndGlyphs">ВЕС,КТ</text>
<text x="180.9" y="540.9" font-size="10.9" text-anchor="middle" letter-spacing="0.55">1/2"</text>
<text x="227.8" y="540.9" font-size="10.9" text-anchor="middle" letter-spacing="0.55">3/4"</text>
<text x="274.1" y="540.9" font-size="10.9" text-anchor="middle" letter-spacing="0.2">115</text>
<text x="321.1" y="540.9" font-size="10.9" text-anchor="middle" letter-spacing="0.2">80</text>
<text x="367.8" y="540.9" font-size="10.9" text-anchor="middle" letter-spacing="0.2">245</text>
<text x="414.1" y="540.9" font-size="10.9" text-anchor="middle" letter-spacing="0.2">0,8</text>
<text x="180.9" y="563.2" font-size="10.9" text-anchor="middle" letter-spacing="0.55">3/4"</text>
<text x="227.8" y="563.2" font-size="10.9" text-anchor="middle" letter-spacing="0.55">1"</text>
<text x="274.1" y="563.2" font-size="10.9" text-anchor="middle" letter-spacing="0.2">132</text>
<text x="321.1" y="563.2" font-size="10.9" text-anchor="middle" letter-spacing="0.2">80</text>
<text x="367.8" y="563.2" font-size="10.9" text-anchor="middle" letter-spacing="0.2">245</text>
<text x="414.1" y="563.2" font-size="10.9" text-anchor="middle" letter-spacing="0.2">1,0</text>
<text x="180.9" y="584.7" font-size="10.9" text-anchor="middle" letter-spacing="0.55">1"</text>
<text x="227.8" y="584.7" font-size="10.9" text-anchor="middle" letter-spacing="0.55">1 1/4"</text>
<text x="274.1" y="584.7" font-size="10.9" text-anchor="middle" letter-spacing="0.2">150</text>
<text x="321.1" y="584.7" font-size="10.9" text-anchor="middle" letter-spacing="0.2">87</text>
<text x="367.8" y="584.7" font-size="10.9" text-anchor="middle" letter-spacing="0.2">265</text>
<text x="414.1" y="584.7" font-size="10.9" text-anchor="middle" letter-spacing="0.2">1,15</text>
</g>
</svg></body></html>
